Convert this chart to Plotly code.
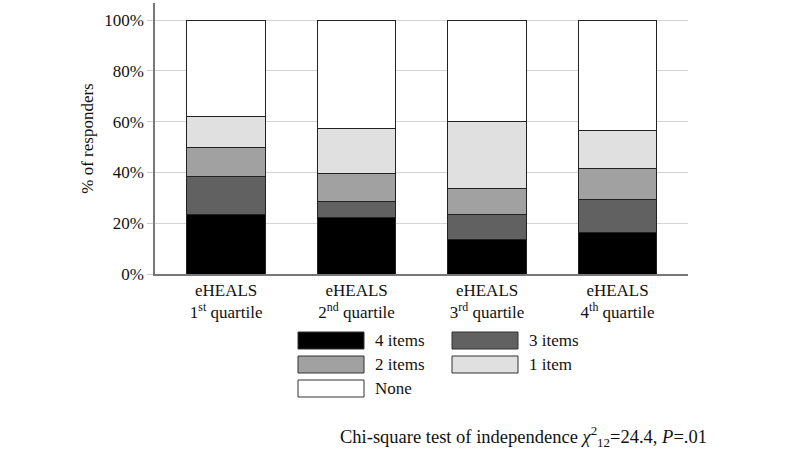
import plotly.graph_objects as go

categories = ["eHEALS<br>1<sup>st</sup> quartile", "eHEALS<br>2<sup>nd</sup> quartile",
              "eHEALS<br>3<sup>rd</sup> quartile", "eHEALS<br>4<sup>th</sup> quartile"]
series_names = ["4 items", "3 items", "2 items", "1 item", "None"]
items4 = [23.5, 22.2, 13.4, 16.3]
items3 = [15.0, 6.5, 10.0, 13.1]
items2 = [11.5, 10.9, 10.1, 12.1]
items1 = [12.1, 17.5, 26.6, 15.1]
none_ = [37.9, 42.9, 39.9, 43.4]
series_values = [items4, items3, items2, items1, none_]
colors = ["#000000", "#616161", "#a1a1a1", "#e0e0e0", "#ffffff"]
yticks = [0, 20, 40, 60, 80, 100]
ytick_labels = ["0%", "20%", "40%", "60%", "80%", "100%"]

FONT = "Liberation Serif, Times New Roman, serif"
fig = go.Figure()
xpos = list(range(len(categories)))
for name, vals, col in zip(series_names, series_values, colors):
    fig.add_trace(go.Bar(x=xpos, y=vals, name=name, width=0.6,
                         marker=dict(color=col, line=dict(color="#222222", width=1)),
                         showlegend=False))

fig.update_layout(
    barmode="stack",
    width=800, height=451,
    margin=dict(l=155, r=112, t=3, b=177),
    paper_bgcolor="white", plot_bgcolor="white",
    font=dict(family=FONT, size=17, color="#111111"),
    xaxis=dict(range=[-0.545, 3.54], tickvals=xpos, ticktext=categories,
               showline=True, linecolor="#777777", linewidth=1.5, ticks="",
               showgrid=False, zeroline=False, tickfont=dict(size=17)),
    yaxis=dict(range=[0, 106.7], tickvals=yticks, ticktext=ytick_labels,
               showline=True, linecolor="#777777", linewidth=1.5,
               ticks="outside", ticklen=6, tickcolor="#cccccc",
               showgrid=True, gridcolor="#d4d4d4", gridwidth=1, zeroline=False,
               title=dict(text="% of responders", font=dict(size=17), standoff=6)),
)

# legend drawn as swatches
legend_pos = [(0, 0), (1, 0), (0, 1), (1, 1), (0, 2)]
col_x = [298, 452]
row_y = [332, 356, 380]
for (c, r), name, col in zip(legend_pos, series_names, colors):
    x0 = col_x[c]; y0 = row_y[r]
    fig.add_shape(type="rect", xref="paper", yref="paper",
                  x0=(x0 - 155) / 533, x1=(x0 + 66 - 155) / 533,
                  y0=(274 - y0) / 271, y1=(274 - y0 - 17) / 271,
                  fillcolor=col, line=dict(color="#333333", width=1))
    fig.add_annotation(xref="paper", yref="paper", x=(x0 + 75 - 155) / 533,
                       y=(274 - y0 - 8.5) / 271, text=name, showarrow=False,
                       xanchor="left", yanchor="middle", font=dict(size=17))

fig.add_annotation(xref="paper", yref="paper", x=(709 - 155) / 533, y=(274 - 436) / 271,
                   text="Chi-square test of independence <i>χ</i><sup>2</sup><sub>12</sub>=24.4, <i>P</i>=.01",
                   showarrow=False, xanchor="right", yanchor="middle", font=dict(size=18.5))

fig.write_html("out.html", config={"displayModeBar": False},
               post_script="document.body.style.margin='0px';")
